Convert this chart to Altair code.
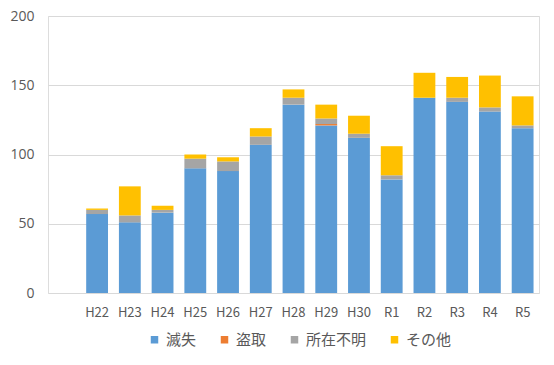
import altair as alt
import pandas as pd

years = ["H22", "H23", "H24", "H25", "H26", "H27", "H28", "H29", "H30", "R1", "R2", "R3", "R4", "R5"]
series = ["滅失", "盗取", "所在不明", "その他"]
colors = ["#5b9bd5", "#ed7d31", "#a5a5a5", "#ffc000"]

lost =    [57, 51, 58, 90, 88, 107, 136, 121, 112, 82, 141, 138, 131, 119]
stolen =  [0,  0,  0,  0,  0,  0,   0,   1,   0,   0,  0,   0,   0,   0]
unknown = [3,  5,  2,  7,  7,  6,   5,   4,   3,   3,  0,   3,   3,   2]
other =   [1,  21, 3,  3,  3,  6,   6,   10,  13,  21, 18,  15,  23,  21]

rows = []
for i, y in enumerate(years):
    for k, (name, vals) in enumerate(zip(series, [lost, stolen, unknown, other])):
        rows.append({"year": y, "series": name, "value": vals[i], "ord": k})
df = pd.DataFrame(rows)

domain_x = [""] + years
font = "Noto Sans CJK JP"

chart = alt.Chart(df).mark_bar().encode(
    x=alt.X("year:N", scale=alt.Scale(domain=domain_x, paddingInner=1/3, paddingOuter=1/6),
            axis=alt.Axis(title=None, labelAngle=0, ticks=False, domain=False, grid=False,
                          labelPadding=13, labelFontSize=13, labelColor="#595959", labelFont=font)),
    y=alt.Y("value:Q", stack="zero", scale=alt.Scale(domain=[0, 200], nice=False),
            axis=alt.Axis(title=None, values=[0, 50, 100, 150, 200], ticks=False, domain=False,
                          gridColor="#d9d9d9", gridWidth=1, labelPadding=14, labelFontSize=14,
                          labelColor="#595959", labelFont="Open Sans")),
    color=alt.Color("series:N", scale=alt.Scale(domain=series, range=colors),
                    legend=alt.Legend(title=None, orient="none", direction="horizontal",
                                      legendX=99, legendY=316, symbolType="square", symbolSize=56,
                                      symbolStrokeWidth=0, labelFontSize=15, labelColor="#595959",
                                      labelFont=font, columnPadding=20, labelOffset=4, padding=0)),
    order=alt.Order("ord:Q", sort="ascending"),
).properties(
    width=491, height=277,
    autosize=alt.AutoSizeParams(type="none"),
    padding={"left": 40, "top": 8, "right": 7, "bottom": 64},
).configure_view(stroke=None).configure(background="white")

chart.save("out.html", embed_options={"renderer": "svg", "actions": False})
